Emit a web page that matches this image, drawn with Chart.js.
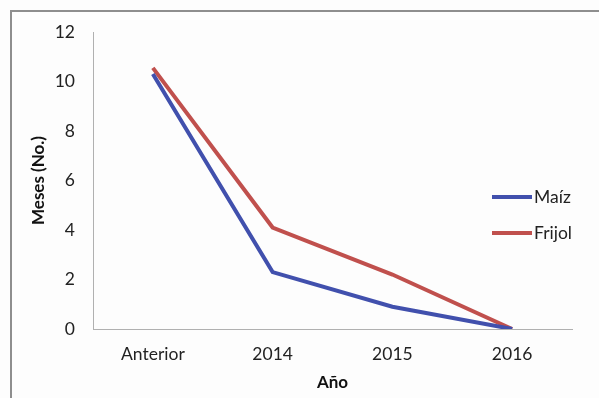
<!DOCTYPE html>
<html>
<head>
<meta charset="utf-8">
<script src="https://cdn.jsdelivr.net/npm/chart.js@4/dist/chart.umd.min.js"></script>
<style>
  html, body { margin: 0; padding: 0; background: #fdfdfd; }
  #wrap { width: 599px; height: 398px; position: relative; }
</style>
</head>
<body>
<div id="wrap"><canvas id="c" width="599" height="398"></canvas></div>
<script>
// Meses por periodo para cada cultivo
const categories = ['Anterior', '2014', '2015', '2016'];
const maiz = [10.3, 2.3, 0.9, 0];
const frijol = [10.55, 4.1, 2.2, 0];
const yMin = 0, yMax = 12, yStep = 2;

const FONT = 'Lato, "Open Sans", sans-serif';
const BLUE = '#4150ad';
const RED = '#c0504d';

// Frame around the whole figure
const framePlugin = {
  id: 'frame',
  beforeDraw(chart) {
    const ctx = chart.ctx;
    ctx.save();
    ctx.fillStyle = '#fdfdfd';
    ctx.fillRect(0, 0, chart.width, chart.height);
    ctx.strokeStyle = '#8e8e8e';
    ctx.lineWidth = 2;
    ctx.strokeRect(11, 11, chart.width + 20, chart.height + 20);
    ctx.restore();
  }
};

// Legend drawn inside the right part of the plot
const sideLegend = {
  id: 'sideLegend',
  afterDatasetsDraw(chart) {
    const ctx = chart.ctx;
    const x0 = chart.chartArea.right - 80;
    let y = 197;
    ctx.save();
    ctx.font = '17.5px ' + FONT;
    ctx.textBaseline = 'middle';
    ctx.textAlign = 'left';
    chart.data.datasets.forEach(ds => {
      ctx.strokeStyle = ds.borderColor;
      ctx.lineWidth = 4;
      ctx.beginPath();
      ctx.moveTo(x0, y);
      ctx.lineTo(x0 + 40, y);
      ctx.stroke();
      ctx.fillStyle = '#222';
      ctx.fillText(ds.label, x0 + 42, y);
      y += 36;
    });
    ctx.restore();
  }
};

new Chart(document.getElementById('c'), {
  type: 'line',
  data: {
    labels: categories,
    datasets: [
      { label: 'Maíz', data: maiz, borderColor: BLUE, backgroundColor: BLUE,
        borderWidth: 4, pointRadius: 0, tension: 0, fill: false },
      { label: 'Frijol', data: frijol, borderColor: RED, backgroundColor: RED,
        borderWidth: 4, pointRadius: 0, tension: 0, fill: false }
    ]
  },
  options: {
    responsive: false,
    animation: false,
    layout: { padding: { left: 0, top: 32, right: 27, bottom: 0 } },
    plugins: {
      legend: { display: false },
      tooltip: { enabled: false }
    },
    scales: {
      x: {
        offset: true,
        grid: { display: false, drawTicks: false },
        border: { display: true, color: '#b0b0b0', width: 1 },
        ticks: { color: '#222', font: { family: FONT, size: 17.5 }, padding: 15, maxRotation: 0 },
        title: { display: true, text: 'Año', color: '#111',
                 font: { family: FONT, size: 17, weight: 'bold' }, padding: { top: 0, bottom: 5 } },
        afterFit(scale) { scale.height = 69; }
      },
      y: {
        min: yMin, max: yMax,
        grid: { display: false, drawTicks: false },
        border: { display: true, color: '#b0b0b0', width: 1 },
        ticks: { stepSize: yStep, color: '#222', font: { family: FONT, size: 17.5 }, padding: 18 },
        title: { display: true, text: 'Meses (No.)', color: '#111',
                 font: { family: FONT, size: 17, weight: 'bold' }, padding: { top: 28, bottom: 0 } },
        afterFit(scale) { scale.width = 93; }
      }
    }
  },
  plugins: [framePlugin, sideLegend]
});
</script>
</body>
</html>
